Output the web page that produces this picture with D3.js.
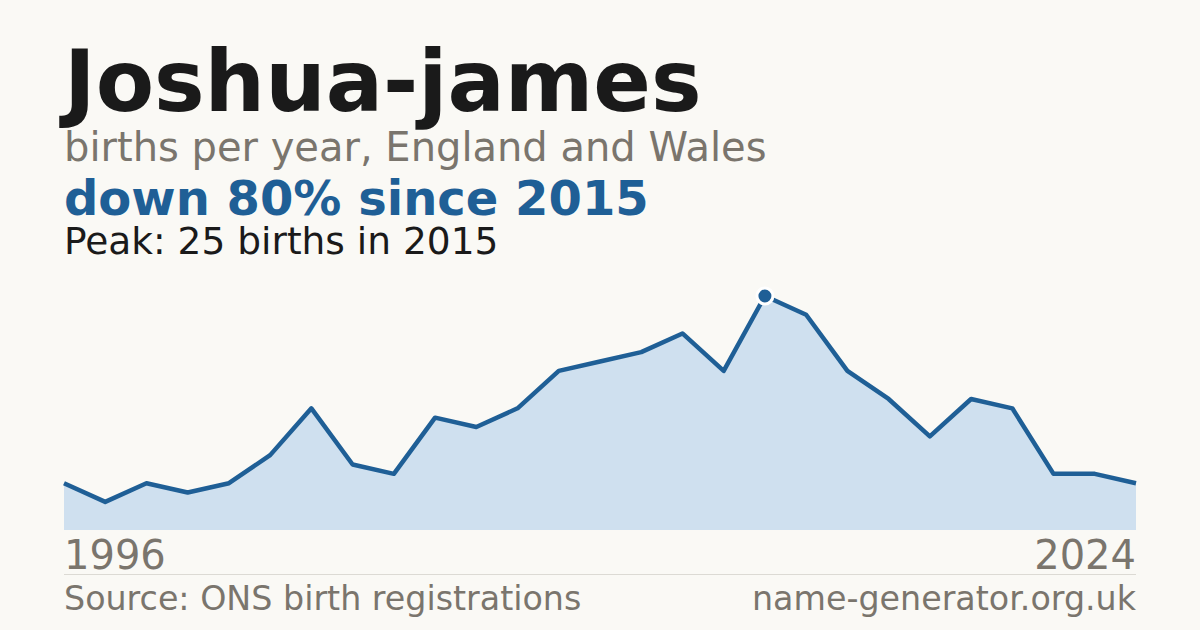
<!DOCTYPE html>
<html>
<head>
<meta charset="utf-8">
<script src="https://cdn.jsdelivr.net/npm/d3@7"></script>
<style>
  html, body { margin: 0; padding: 0; background: #faf9f5; }
  svg { display: block; font-family: "DejaVu Sans", sans-serif; }
</style>
</head>
<body>
<div class="container"></div>
<script>
// registered years (some years have no published count)
var years = [1996, 1997, 1998, 2000, 2001, 2002, 2003, 2004, 2005, 2006, 2008, 2009, 2010,
             2011, 2012, 2013, 2014, 2015, 2016, 2017, 2018, 2019, 2020, 2021, 2022, 2023, 2024];
var births = [5, 3, 5, 4, 5, 8, 13, 7, 6, 12, 11, 13, 17, 18, 19, 21, 17, 25, 23, 17, 14, 10, 14, 13, 6, 6, 5];
var tickLabels = ["1996", "2024"];

var svgWidth = 1200;
var svgHeight = 630;
var chartMargin = { top: 296, bottom: 100, left: 64, right: 64 };
var chartWidth = svgWidth - chartMargin.left - chartMargin.right;
var chartHeight = svgHeight - chartMargin.top - chartMargin.bottom;

var blue = "#1f5f96";
var grey = "#7a756d";

var svg = d3.select(".container")
    .append("svg")
    .attr("width", svgWidth)
    .attr("height", svgHeight);

svg.append("rect").attr("width", svgWidth).attr("height", svgHeight).attr("fill", "#faf9f5");

// headings
svg.append("text").attr("x", 64).attr("y", 111)
    .attr("font-size", "85px").attr("font-weight", "bold").attr("fill", "#1a1a1a")
    .text("Joshua-james");
svg.append("text").attr("x", 64).attr("y", 161)
    .attr("font-size", "40px").attr("fill", grey)
    .text("births per year, England and Wales");
svg.append("text").attr("x", 64).attr("y", 215)
    .attr("font-size", "48px").attr("font-weight", "bold").attr("fill", blue)
    .text("down 80% since 2015");
svg.append("text").attr("x", 64).attr("y", 254)
    .attr("font-size", "37.5px").attr("fill", "#1a1a1a")
    .text("Peak: 25 births in 2015");

var chartGroup = svg.append("g")
    .attr("transform", `translate(${chartMargin.left}, ${chartMargin.top})`);

var xScale = d3.scalePoint()
    .domain(years)
    .range([0, chartWidth]);

var yScale = d3.scaleLinear()
    .domain([0, d3.max(births)])
    .range([chartHeight, 0]);

var data = years.map((y, i) => ({ year: y, value: births[i] }));

var area = d3.area()
    .x(d => xScale(d.year))
    .y0(chartHeight)
    .y1(d => yScale(d.value));

var line = d3.line()
    .x(d => xScale(d.year))
    .y(d => yScale(d.value));

chartGroup.append("path")
    .datum(data)
    .attr("d", area)
    .attr("fill", "#cfe0ef");

chartGroup.append("path")
    .datum(data)
    .attr("d", line)
    .attr("fill", "none")
    .attr("stroke", blue)
    .attr("stroke-width", 4.5)
    .attr("stroke-linejoin", "round");

// peak marker
var peak = data[d3.maxIndex(data, d => d.value)];
chartGroup.append("circle")
    .attr("cx", xScale(peak.year))
    .attr("cy", yScale(peak.value))
    .attr("r", 8)
    .attr("fill", blue)
    .attr("stroke", "#ffffff")
    .attr("stroke-width", 3);

// first / last year labels
chartGroup.append("text")
    .attr("x", 0).attr("y", chartHeight + 39)
    .attr("font-size", "40px").attr("fill", grey)
    .text(tickLabels[0]);
chartGroup.append("text")
    .attr("x", chartWidth).attr("y", chartHeight + 39)
    .attr("text-anchor", "end")
    .attr("font-size", "40px").attr("fill", grey)
    .text(tickLabels[1]);

// footer
svg.append("line")
    .attr("x1", 64).attr("x2", 1136).attr("y1", 574.5).attr("y2", 574.5)
    .attr("stroke", "#dcdad4").attr("stroke-width", 1);
svg.append("text").attr("x", 64).attr("y", 610)
    .attr("font-size", "33.3px").attr("fill", grey)
    .text("Source: ONS birth registrations");
svg.append("text").attr("x", 1136).attr("y", 610)
    .attr("text-anchor", "end")
    .attr("font-size", "33.3px").attr("fill", grey)
    .text("name-generator.org.uk");
</script>
</body>
</html>
